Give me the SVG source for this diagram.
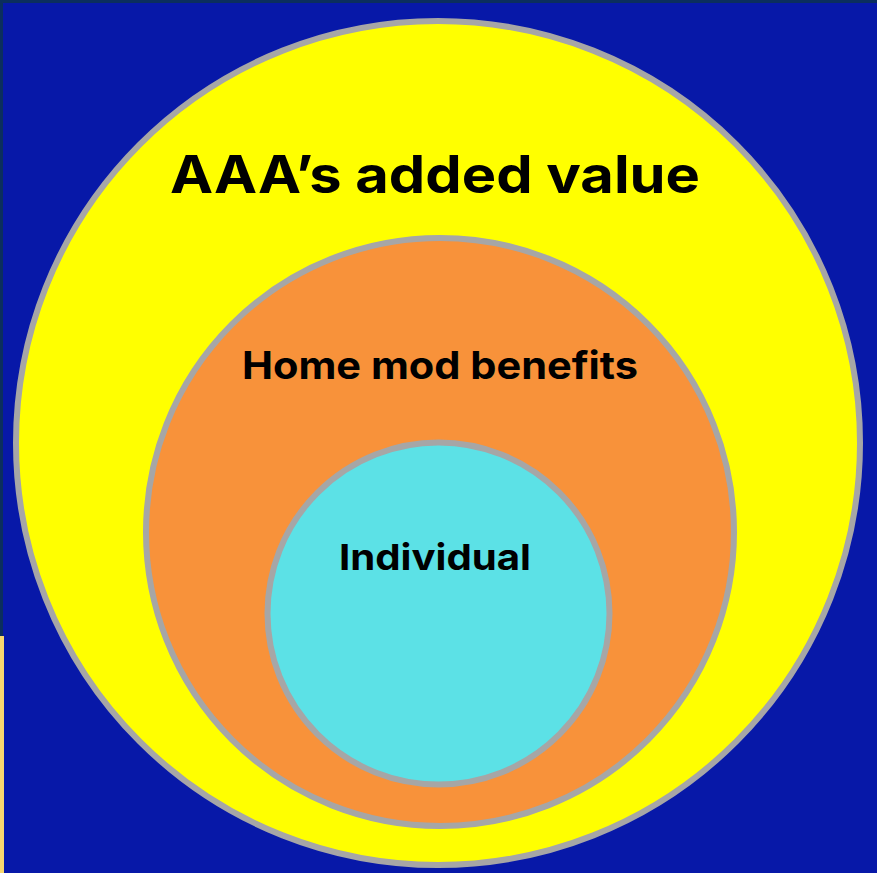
<svg xmlns="http://www.w3.org/2000/svg" width="877" height="873" viewBox="0 0 877 873">
  <style>
    .ring { stroke: #A6A6A6; stroke-width: 6; }
    .label { font-family: "Inter", "Liberation Sans", sans-serif; font-weight: 700; fill: #000000; text-anchor: middle; }
  </style>
  <rect x="0" y="0" width="877" height="873" fill="#0B2E5E"/>
  <rect x="3" y="3" width="874" height="870" fill="#0718A8"/>
  <rect x="0" y="636" width="4" height="237" fill="#F8D870"/>
  <g id="outer">
    <circle class="ring" cx="438" cy="443" r="422" fill="#FFFF00"/>
    <text class="label" x="435" y="193" font-size="52" textLength="530" lengthAdjust="spacingAndGlyphs">AAA’s added value</text>
  </g>
  <g id="middle">
    <circle class="ring" cx="440" cy="532" r="294" fill="#F8923A"/>
    <text class="label" x="440" y="379" font-size="38" textLength="396" lengthAdjust="spacingAndGlyphs">Home mod benefits</text>
  </g>
  <g id="inner">
    <circle class="ring" cx="438.5" cy="613.5" r="171" fill="#5CE1E6"/>
    <text class="label" x="435" y="570" font-size="36" textLength="192" lengthAdjust="spacingAndGlyphs">Individual</text>
  </g>
  <g id="connectors"/>
</svg>
